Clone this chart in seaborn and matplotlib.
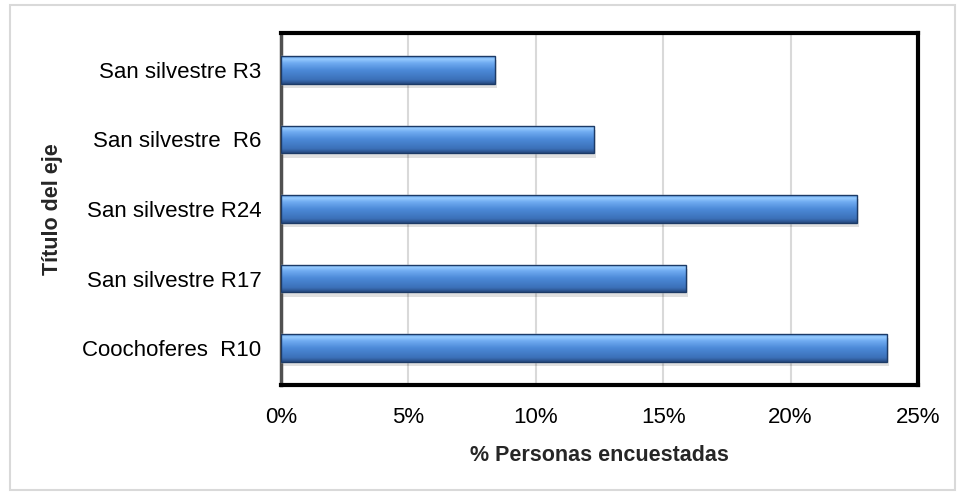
import numpy as np
import matplotlib
matplotlib.use("Agg")
import matplotlib.pyplot as plt
import seaborn as sns
from matplotlib.colors import LinearSegmentedColormap
from matplotlib.patches import Rectangle
from matplotlib.ticker import FuncFormatter

# Data
categories = ['San silvestre R3', 'San silvestre  R6', 'San silvestre R24',
              'San silvestre R17', 'Coochoferes  R10']
percent = [8.4, 12.3, 22.6, 15.9, 23.8]
x_ticks = [0, 5, 10, 15, 20, 25]

sns.set_style("white")
plt.rcParams['font.family'] = ['Liberation Sans', 'DejaVu Sans']

fig = plt.figure(figsize=(9.61, 4.97), dpi=100)
ax = fig.add_axes([0.2924, 0.2254, 0.6628, 0.7082])

sns.barplot(x=percent, y=categories, orient='h', color='#4a86d2',
            width=0.4, ax=ax, zorder=3)

# glossy blue gradient over each bar + soft shadow
blue_grad = LinearSegmentedColormap.from_list(
    'bar', [(0.0, '#5a98e4'), (0.1, '#96cbff'), (0.25, '#6eaaf0'),
            (0.5, '#4c8ad8'), (0.85, '#3b70b8'), (1.0, '#274a80')])
grad = np.linspace(0, 1, 100).reshape(-1, 1)
for p in list(ax.patches):
    x0, y0 = p.get_x(), p.get_y()
    w, h = p.get_width(), p.get_height()
    shadow = Rectangle((x0 + 0.08, y0 + 0.06), w, h, facecolor='#000000',
                       alpha=0.12, edgecolor='none', zorder=2)
    ax.add_patch(shadow)
    im = ax.imshow(grad, cmap=blue_grad, aspect='auto', origin='upper',
                   extent=(x0, x0 + w, y0 + h, y0), zorder=4)
    im.set_clip_path(p)
    edge = Rectangle((x0, y0), w, h, fill=False, edgecolor='#1c3a66',
                     lw=1.0, zorder=5)
    ax.add_patch(edge)

ax.set_xlim(0, 25)
ax.set_ylim(4.53, -0.53)
ax.set_xticks(x_ticks)
ax.xaxis.set_major_formatter(FuncFormatter(lambda v, _: f'{v:.0f}%'))
ax.grid(axis='x', color='#d9d9d9', linewidth=1.5, zorder=0)
ax.set_axisbelow(True)
ax.tick_params(axis='both', length=0, labelsize=16, colors='black')
ax.tick_params(axis='x', pad=16)
ax.tick_params(axis='y', pad=14)

for side in ['top', 'right', 'bottom']:
    ax.spines[side].set_linewidth(3)
    ax.spines[side].set_color('black')
ax.spines['left'].set_linewidth(2.5)
ax.spines['left'].set_color('#505050')

ax.set_xlabel('% Personas encuestadas', fontsize=15.5, fontweight='bold', labelpad=12)
ax.set_ylabel('Título del eje', fontsize=15.5, fontweight='bold', labelpad=14)

fig.patches.append(Rectangle((0.0104, 0.014), 0.9836, 0.976,
                             transform=fig.transFigure, fill=False,
                             edgecolor='#d9d9d9', linewidth=1.5))

fig.savefig('out.png', dpi=100)
